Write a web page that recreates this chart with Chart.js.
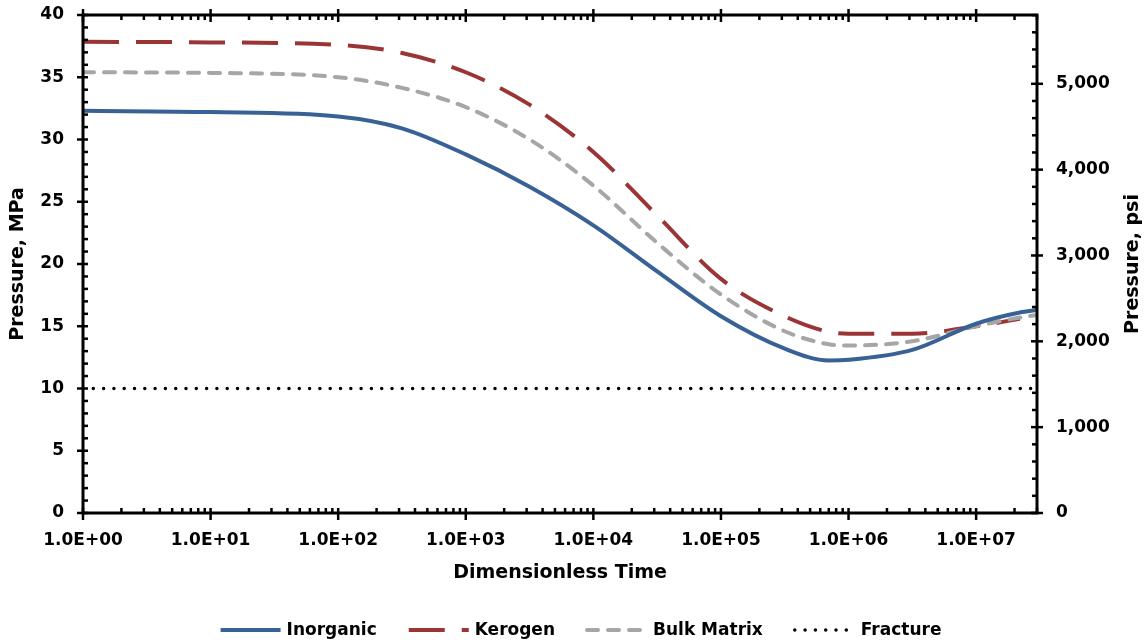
<!DOCTYPE html>
<html>
<head>
<meta charset="utf-8">
<script src="https://cdn.jsdelivr.net/npm/chart.js@4.4.1/dist/chart.umd.min.js"></script>
<style>
  html, body { margin: 0; padding: 0; background: #fff; }
</style>
</head>
<body>
<canvas id="myChart" width="1146" height="644"></canvas>
<script>
var ctx = document.getElementById('myChart').getContext('2d');

// dimensionless time (x) and pressures in MPa
const timeValues = [1, 10, 100, 316, 1000, 3162, 10000, 31623, 100000, 316228, 700000, 1000000, 3162278, 10000000, 22000000, 30000000];
const inorganic  = [32.3, 32.2, 31.85, 30.9, 28.8, 26.2, 23.1, 19.4, 15.8, 13.2, 12.25, 12.3, 13.1, 15.2, 16.1, 16.3];
const kerogen    = [37.85, 37.8, 37.6, 36.95, 35.4, 32.8, 29.0, 23.9, 18.8, 15.8, 14.55, 14.4, 14.4, 15.0, 15.6, null];
const bulkMatrix = [35.4, 35.35, 35.0, 34.15, 32.6, 30.0, 26.3, 21.7, 17.55, 14.6, 13.55, 13.45, 13.8, 15.0, 15.7, 15.9];
const fracture   = [10, 10, 10, 10, 10, 10, 10, 10, 10, 10, 10, 10, 10, 10, 10, 10];

const xTicks = [1, 10, 100, 1000, 10000, 100000, 1000000, 10000000];
const mpaTicks = [0, 5, 10, 15, 20, 25, 30, 35, 40];
const psiTicks = [0, 1000, 2000, 3000, 4000, 5000];
const PSI_PER_MPA = 145.0377;

function pts(vals) {
    return timeValues.map((t, i) => ({ x: t, y: vals[i] }));
}

function sci(v) {
    const e = Math.round(Math.log10(v));
    const m = v / Math.pow(10, e);
    return m.toFixed(1) + 'E' + (e < 0 ? '-' : '+') + String(Math.abs(e)).padStart(2, '0');
}

const FONT = "'DejaVu Sans', sans-serif";
Chart.defaults.font.family = FONT;
Chart.defaults.font.weight = 'bold';
Chart.defaults.color = '#000';

// frame, tick marks, right axis title and the legend
const frameTicks = {
    id: 'frameTicks',
    afterDraw(chart) {
        const c = chart.ctx;
        const a = chart.chartArea;
        const sx = chart.scales.x, sy = chart.scales.y, sy2 = chart.scales.y2;
        c.save();
        c.strokeStyle = '#000';
        c.lineCap = 'butt';
        function seg(x1, y1, x2, y2, w) {
            c.lineWidth = w;
            c.beginPath(); c.moveTo(x1, y1); c.lineTo(x2, y2); c.stroke();
        }
        // x ticks (bottom and top)
        for (let e = 0; e <= 7; e++) {
            for (let m = 1; m <= 9; m++) {
                const v = m * Math.pow(10, e);
                if (v > sx.max) break;
                const px = sx.getPixelForValue(v);
                if (m === 1) {
                    seg(px, a.bottom - 5, px, a.bottom + 7, 2.5);
                    seg(px, a.top - 6, px, a.top + 7, 2.5);
                } else {
                    seg(px, a.bottom - 5, px, a.bottom, 2.5);
                    seg(px, a.top, px, a.top + 5, 2.5);
                }
            }
        }
        // left axis ticks
        for (let v = 0; v <= 40; v++) {
            const py = sy.getPixelForValue(v);
            if (v % 5 === 0) seg(a.left - 6, py, a.left + 5, py, 2.5);
            else seg(a.left, py, a.left + 5, py, 2.5);
        }
        // right axis ticks
        for (let v = 0; v <= sy2.max; v += 200) {
            const py = sy2.getPixelForValue(v);
            if (v % 1000 === 0) seg(a.right - 6, py, a.right + 6, py, 2.5);
            else seg(a.right - 5, py, a.right, py, 2.5);
        }
        // frame
        c.lineWidth = 3;
        c.strokeRect(a.left, a.top, a.right - a.left, a.bottom - a.top);

        // legend
        c.font = 'bold 17px ' + FONT;
        c.textBaseline = 'middle';
        c.textAlign = 'left';
        c.fillStyle = '#000';
        const sw = 60, gapTxt = 6, gapItem = 32, ly = 630;
        const ds = chart.data.datasets;
        let total = 0;
        ds.forEach(d => { total += sw + gapTxt + c.measureText(d.label).width; });
        total += gapItem * (ds.length - 1);
        let lx = 581 - total / 2;
        ds.forEach(d => {
            c.save();
            c.strokeStyle = d.borderColor;
            c.lineWidth = d.borderWidth;
            c.lineCap = d.borderCapStyle || 'butt';
            c.setLineDash(d.borderDash || []);
            c.beginPath(); c.moveTo(lx, ly); c.lineTo(lx + sw, ly); c.stroke();
            c.restore();
            lx += sw + gapTxt;
            c.fillText(d.label, lx, ly + 1);
            lx += c.measureText(d.label).width + gapItem;
        });

        // right title reads bottom to top
        c.font = 'bold 19px ' + FONT;
        c.textAlign = 'center';
        c.translate(a.right + 96, (a.top + a.bottom) / 2);
        c.rotate(-Math.PI / 2);
        c.fillText('Pressure, psi', 0, 0);
        c.restore();
    }
};

var myChart = new Chart(ctx, {
    type: 'line',
    data: {
        datasets: [{
            label: 'Inorganic',
            data: pts(inorganic),
            borderColor: '#386295',
            backgroundColor: '#386295',
            borderWidth: 4,
            order: 1
        }, {
            label: 'Kerogen',
            data: pts(kerogen),
            borderColor: '#9b3535',
            backgroundColor: '#9b3535',
            borderWidth: 4,
            borderDash: [36, 17],
            order: 3
        }, {
            label: 'Bulk Matrix',
            data: pts(bulkMatrix),
            borderColor: '#a6a6a6',
            backgroundColor: '#a6a6a6',
            borderWidth: 4,
            borderDash: [11, 10],
            borderCapStyle: 'round',
            order: 2
        }, {
            label: 'Fracture',
            data: pts(fracture),
            borderColor: '#000',
            backgroundColor: '#000',
            borderWidth: 3.5,
            borderDash: [0, 10.3],
            borderCapStyle: 'round',
            order: 4
        }]
    },
    options: {
        responsive: false,
        animation: false,
        elements: {
            point: { radius: 0 },
            line: { cubicInterpolationMode: 'monotone' }
        },
        layout: { padding: { top: 15, left: 0, right: 0, bottom: 51 } },
        scales: {
            x: {
                type: 'logarithmic',
                min: 1,
                max: 30000000,
                grid: { display: false, drawTicks: false },
                border: { display: false },
                afterBuildTicks: s => { s.ticks = xTicks.map(v => ({ value: v })); },
                afterFit: s => { s.height = 80; },
                ticks: {
                    autoSkip: false,
                    maxRotation: 0,
                    padding: 17,
                    font: { size: 17 },
                    callback: v => sci(v)
                },
                title: {
                    display: true,
                    text: 'Dimensionless Time',
                    font: { size: 19 },
                    padding: { top: 0, bottom: 9 }
                }
            },
            y: {
                position: 'left',
                min: 0,
                max: 40,
                grid: { display: false, drawTicks: false },
                border: { display: false },
                afterBuildTicks: s => { s.ticks = mpaTicks.map(v => ({ value: v })); },
                afterFit: s => { s.width = 83; s.paddingTop = 0; s.paddingBottom = 0; },
                ticks: { padding: 19, font: { size: 17 } },
                title: {
                    display: true,
                    text: 'Pressure, MPa',
                    font: { size: 19 },
                    padding: { top: 7, bottom: 0 }
                }
            },
            y2: {
                position: 'right',
                min: 0,
                max: 40 * PSI_PER_MPA,
                grid: { display: false, drawTicks: false },
                border: { display: false },
                afterBuildTicks: s => { s.ticks = psiTicks.map(v => ({ value: v })); },
                afterFit: s => { s.width = 109; s.paddingTop = 0; s.paddingBottom = 0; },
                ticks: {
                    padding: 19,
                    font: { size: 17 },
                    callback: v => v.toLocaleString('en-US')
                }
            }
        },
        plugins: {
            legend: { display: false },
            tooltip: { enabled: false }
        }
    },
    plugins: [frameTicks]
});
</script>
</body>
</html>
